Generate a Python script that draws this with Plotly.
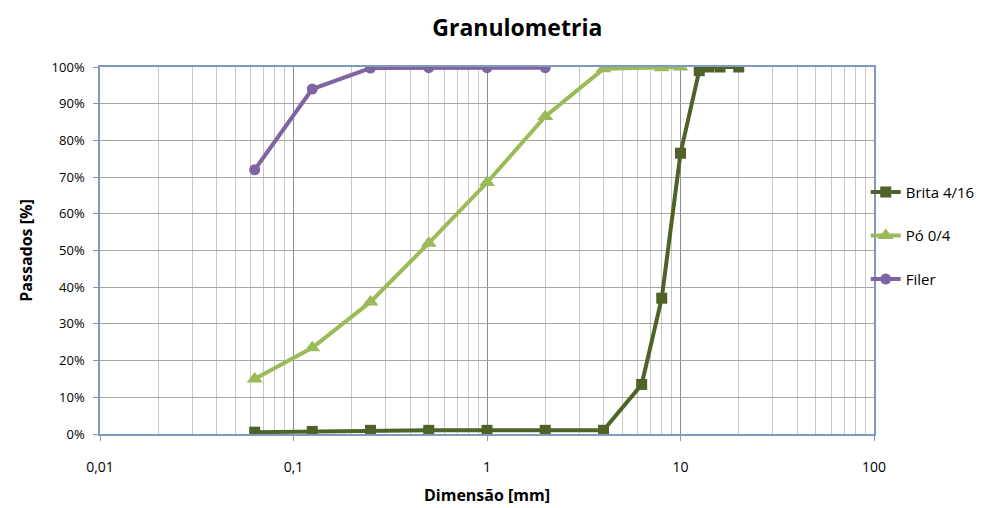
import plotly.graph_objects as go

brita_x = [0.063, 0.125, 0.25, 0.5, 1, 2, 4, 6.3, 8, 10, 12.5, 14, 16, 20]
brita_y = [0.5, 0.7, 1.0, 1.0, 1.0, 1.0, 1.0, 13.5, 37.0, 76.5, 99.0, 100, 100, 100]
po_x = [0.063, 0.125, 0.25, 0.5, 1, 2, 4, 8, 10]
po_y = [15.0, 23.5, 36.0, 52.0, 68.5, 86.5, 99.5, 99.8, 100]
filer_x = [0.063, 0.125, 0.25, 0.5, 1, 2]
filer_y = [72.0, 94.0, 99.7, 99.8, 99.8, 99.8]

x_ticks = [0.01, 0.1, 1, 10, 100]
x_tick_text = ["0,01", "0,1", "1", "10", "100"]
y_ticks = list(range(0, 101, 10))
y_tick_text = [f"{v}%" for v in y_ticks]

minor_vals = [m * d for d in [0.01, 0.1, 1, 10] for m in range(2, 10)]

font = "Open Sans"
fig = go.Figure()
fig.add_trace(go.Scatter(x=brita_x, y=brita_y, name="Brita 4/16", mode="lines+markers",
                         line=dict(color="#4f6228", width=4),
                         marker=dict(symbol="square", size=11, color="#4f6228"),
                         legendgroup="a"))
fig.add_trace(go.Scatter(x=po_x, y=po_y, name="Pó 0/4", mode="lines+markers",
                         line=dict(color="#9bbb59", width=4),
                         marker=dict(symbol="triangle-up", size=14, color="#9bbb59"),
                         legendgroup="b"))
fig.add_trace(go.Scatter(x=filer_x, y=filer_y, name="Filer", mode="lines+markers",
                         line=dict(color="#8064a2", width=4),
                         marker=dict(symbol="circle", size=11, color="#8064a2"),
                         legendgroup="c"))

fig.update_layout(
    width=991, height=508,
    margin=dict(l=100, r=116, t=67, b=74),
    paper_bgcolor="white", plot_bgcolor="white",
    font=dict(family=font, size=13, color="black"),
    title=dict(text="<b>Granulometria</b>", x=0.522, xanchor="center", y=0.945, yanchor="middle",
               font=dict(size=23, family=font)),
    legend=dict(x=0.988, xanchor="left", y=0.54, yanchor="middle", tracegroupgap=21,
                font=dict(size=15, family=font), bgcolor="rgba(0,0,0,0)"),
    xaxis=dict(type="log", range=[-2, 2], tickvals=x_ticks, ticktext=x_tick_text,
               automargin=False,
               showgrid=True, gridcolor="#8c8c8c", gridwidth=1,
               minor=dict(tickvals=minor_vals, showgrid=True, gridcolor="#c8c8c8", gridwidth=1),
               showline=True, linecolor="#7f99bf", linewidth=1.5, mirror=True,
               ticks="outside", tickcolor="#7f99bf", ticklen=5, zeroline=False,
               ticklabelstandoff=14,
               title=dict(text="<b>Dimensão [mm]</b>", font=dict(size=16)),
               tickfont=dict(size=14)),
    yaxis=dict(range=[0, 100], tickvals=y_ticks, ticktext=y_tick_text,
               automargin=False,
               showgrid=True, gridcolor="#a6a6a6", gridwidth=1,
               showline=True, linecolor="#7f99bf", linewidth=1.5, mirror=True,
               ticks="outside", tickcolor="#7f99bf", ticklen=5, zeroline=False,
               ticklabelstandoff=6,
               title=dict(text="<b>Passados [%]</b>", font=dict(size=16)),
               tickfont=dict(size=13)),
)

fig.write_html("out.html")
